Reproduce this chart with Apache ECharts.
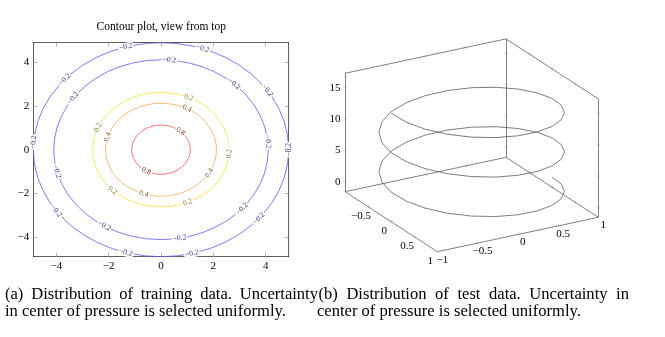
<!DOCTYPE html>
<html>
<head>
<meta charset="utf-8">
<script src="https://cdn.jsdelivr.net/npm/echarts@6.0.0/dist/echarts.min.js"></script>
<style>html,body{margin:0;padding:0;background:#fff}#main{width:665px;height:337px}</style>
</head>
<body>
<div id="main"></div>
<script>
// ---------------- data: left contour plot ----------------
const contourLevels = [-0.2, -0.2, 0.2, 0.4, 0.8];
const contourRadii  = [4.88, 4.10, 2.61, 2.12, 1.12];
const contourLabelAngles = [
  [0, 33.6, 71, 106, 139, 176, 215, 254, 284, 320],
  [5, 47, 85.5, 145, 194, 238, 280, 319],
  [66, 157, 225, 293, 356],
  [62, 164, 252, 330],
  [48, 240]
];
const leftTicks = [-4, -2, 0, 2, 4];
const contourTitle = 'Contour plot, view from top';

// ---------------- data: right 3D helix ----------------
const helixX = [
  1, 0.966, 0.866, 0.707, 0.5, 0.259, 0, -0.259, -0.5, -0.707, -0.866, -0.966,
  -1, -0.966, -0.866, -0.707, -0.5, -0.259, 0, 0.259, 0.5, 0.707, 0.866, 0.966,
  1, 0.966, 0.866, 0.707, 0.5, 0.259, 0, -0.259, -0.5, -0.707, -0.866, -0.966,
  -1, -0.966, -0.866, -0.707, -0.5, -0.259, 0, 0.259, 0.5, 0.707, 0.866, 0.966,
  1, 0.966, 0.866, 0.707, 0.5, 0.259, 0, -0.259, -0.5, -0.707, -0.866, -0.966, -1
];
const helixY = [
  0, 0.259, 0.5, 0.707, 0.866, 0.966, 1, 0.966, 0.866, 0.707, 0.5, 0.259,
  0, -0.259, -0.5, -0.707, -0.866, -0.966, -1, -0.966, -0.866, -0.707, -0.5, -0.259,
  0, 0.259, 0.5, 0.707, 0.866, 0.966, 1, 0.966, 0.866, 0.707, 0.5, 0.259,
  0, -0.259, -0.5, -0.707, -0.866, -0.966, -1, -0.966, -0.866, -0.707, -0.5, -0.259,
  0, 0.259, 0.5, 0.707, 0.866, 0.966, 1, 0.966, 0.866, 0.707, 0.5, 0.259, 0
];
const helixZ = [
  0, 0.262, 0.524, 0.785, 1.047, 1.309, 1.571, 1.833, 2.094, 2.356, 2.618, 2.880,
  3.142, 3.403, 3.665, 3.927, 4.189, 4.451, 4.712, 4.974, 5.236, 5.498, 5.760, 6.021,
  6.283, 6.545, 6.807, 7.069, 7.330, 7.592, 7.854, 8.116, 8.378, 8.639, 8.901, 9.163,
  9.425, 9.687, 9.948, 10.210, 10.472, 10.734, 10.996, 11.257, 11.519, 11.781, 12.043, 12.305,
  12.566, 12.828, 13.090, 13.352, 13.614, 13.875, 14.137, 14.399, 14.661, 14.923, 15.184, 15.446, 15.708
];
const xRange3 = [-1, 1];
const yRange3 = [-1, 1];
const zRange3 = [-1.571, 17.279];
const xTicks3 = [-1, -0.5, 0, 0.5, 1];
const yTicks3 = [-0.5, 0, 0.5, 1];
const zTicks3 = [0, 5, 10, 15];

// ---------------- captions ----------------
const captionA = ['(a) Distribution of training data. Uncertainty', 'in center of pressure is selected uniformly.'];
const captionB = ['(b) Distribution of test data.  Uncertainty in', 'center of pressure is selected uniformly.'];

// ---------------- layout / style ----------------
const SERIF = '"Liberation Serif", "Times New Roman", serif';
const ringColors  = ['#5a5af5', '#5a5af5', '#f3df3c', '#f4a95a', '#f05050'];
const labelColors = ['#2b2b80', '#2b2b80', '#80781e', '#80521e', '#80201e'];

// 3D projection (screen layout of the box)
const O3 = [471.65, 204.5];
const EX = [80.5, -17.2];
const EY = [46.15, 30];
const ZS = 118.4 / (zRange3[1] - zRange3[0]);
function proj(x, y, z) {
  return [O3[0] + EX[0] * x + EY[0] * y, O3[1] + EX[1] * x + EY[1] * y - ZS * (z - zRange3[0])];
}

const fmt = v => (v < 0 ? '\u2212' : '') + Math.abs(v);

// rings
const ringStep = 7.5;
const ringSeries = contourRadii.map((r, i) => {
  const pts = [];
  for (let a = 0; a <= 360 + 1e-9; a += ringStep) {
    const t = a * Math.PI / 180;
    pts.push([r * Math.cos(t), r * Math.sin(t)]);
  }
  return {
    type: 'line', xAxisIndex: 0, yAxisIndex: 0, data: pts, showSymbol: false, symbol: 'none',
    lineStyle: { color: ringColors[i], width: 0.8 }, silent: true, animation: false, z: 2
  };
});
const R = contourRadii[0];

const labelData = [];
contourLabelAngles.forEach((arr, i) => arr.forEach(a => labelData.push([contourRadii[i], a, i])));

const contourLabelSeries = {
  type: 'custom', xAxisIndex: 0, yAxisIndex: 0, data: labelData, silent: true, animation: false, z: 5,
  renderItem: function (params, api) {
    const r = api.value(0), a = api.value(1) * Math.PI / 180, ring = api.value(2);
    const p = api.coord([r * Math.cos(a), r * Math.sin(a)]);
    const d = 0.02;
    const p1 = api.coord([r * Math.cos(a - d), r * Math.sin(a - d)]);
    const p2 = api.coord([r * Math.cos(a + d), r * Math.sin(a + d)]);
    let ang = Math.atan2(-(p2[1] - p1[1]), p2[0] - p1[0]);
    if (ang > Math.PI / 2) ang -= Math.PI;
    if (ang < -Math.PI / 2) ang += Math.PI;
    return {
      type: 'text', x: p[0], y: p[1], rotation: ang,
      style: {
        text: fmt(contourLevels[ring]), fill: labelColors[ring],
        font: '7.5px ' + SERIF, align: 'center', verticalAlign: 'middle',
        backgroundColor: '#fff', padding: [0, 1]
      }
    };
  }
};

// 3D box edges
const zMin = zRange3[0], zMax = zRange3[1];
const x0 = xRange3[0], x1 = xRange3[1], y0 = yRange3[0], y1 = yRange3[1];
const edges3 = [
  [[x0, y0, zMin], [x0, y0, zMax]],
  [[x1, y0, zMin], [x1, y0, zMax]],
  [[x1, y1, zMin], [x1, y1, zMax]],
  [[x0, y0, zMax], [x1, y0, zMax]],
  [[x1, y0, zMax], [x1, y1, zMax]],
  [[x0, y0, zMin], [x1, y0, zMin]],
  [[x1, y0, zMin], [x1, y1, zMin]],
  [[x0, y0, zMin], [x0, y1, zMin]],
  [[x0, y1, zMin], [x1, y1, zMin]]
];
const boxLines = edges3.map(e => ({ coords: [proj.apply(null, e[0]), proj.apply(null, e[1])] }));

// small tick marks on box edges
const tickLen = 2.5;
function tickSegs(p3, dirs) {
  const c = proj(p3[0], p3[1], p3[2]);
  const out = [];
  dirs.forEach(dv => {
    const q = proj(p3[0] + dv[0], p3[1] + dv[1], p3[2] + dv[2]);
    let dx = q[0] - c[0], dy = q[1] - c[1];
    const L = Math.hypot(dx, dy) || 1;
    dx = dx / L * tickLen; dy = dy / L * tickLen;
    out.push({ coords: [[c[0] - dx, c[1] - dy], [c[0] + dx, c[1] + dy]] });
  });
  return out;
}
const tickLines = [];
const innerX = xTicks3.filter(v => v > x0 && v < x1);
const innerY = [-0.5, 0, 0.5];
innerX.forEach(x => {
  [[y0, zMax], [y0, zMin], [y1, zMin]].forEach(e => tickLines.push(...tickSegs([x, e[0], e[1]], [[0, 1, 0], [0, 0, 1]])));
});
innerY.forEach(y => {
  [[x1, zMax], [x1, zMin], [x0, zMin]].forEach(e => tickLines.push(...tickSegs([e[0], y, e[1]], [[1, 0, 0], [0, 0, 1]])));
});
zTicks3.forEach(z => {
  [[x0, y0], [x1, y0], [x1, y1]].forEach(e => tickLines.push(...tickSegs([e[0], e[1], z], [[1, 0, 0], [0, 1, 0]])));
});

const helixPts = helixX.map((x, i) => proj(x, helixY[i], helixZ[i]));

// 3D tick labels
const labels3 = [];
zTicks3.forEach(z => { const p = proj(x0, y0, z); labels3.push({ p: [p[0] - 4.5, p[1]], t: fmt(z), align: 'right' }); });
xTicks3.forEach(x => { const p = proj(x, y1, zMin); labels3.push({ p: [p[0] + 5, p[1] + 8], t: fmt(x), align: 'center' }); });
yTicks3.forEach(y => { const p = proj(x0, y, zMin); labels3.push({ p: [p[0] - 7, p[1] + 9], t: fmt(y), align: 'center' }); });
const labels3Series = {
  type: 'custom', xAxisIndex: 2, yAxisIndex: 2, silent: true, animation: false, z: 6,
  data: labels3.map((l, i) => [l.p[0], l.p[1], i]),
  renderItem: function (params, api) {
    const l = labels3[api.value(2)];
    const p = api.coord([api.value(0), api.value(1)]);
    return { type: 'text', x: p[0], y: p[1], style: { text: l.t, fill: '#000', font: '11px ' + SERIF, align: l.align, verticalAlign: 'middle' } };
  }
};

// captions (fit font so that the natural last line matches, justify first lines)
const cv = document.createElement('canvas').getContext('2d');
function mw(t, fs) { cv.font = fs + 'px ' + SERIF; return cv.measureText(t).width; }
const capFs = Math.min(17, 16 * 264 / mw(captionB[1], 16));
function justify(line, xa, xb, y) {
  const words = line.split(/\s+/);
  const ws = words.map(w => mw(w, capFs));
  const sum = ws.reduce((a, b) => a + b, 0);
  const gap = (xb - xa - sum) / (words.length - 1);
  let x = xa; const out = [];
  words.forEach((w, i) => {
    out.push({ type: 'text', x: x, y: y, style: { text: w, fill: '#000', font: capFs + 'px ' + SERIF, verticalAlign: 'middle' }, silent: true });
    x += ws[i] + gap;
  });
  return out;
}
const capEls = [].concat(
  justify(captionA[0], 5, 318, 295),
  [{ type: 'text', x: 5, y: 312, style: { text: captionA[1], fill: '#000', font: capFs + 'px ' + SERIF, verticalAlign: 'middle' }, silent: true }],
  justify(captionB[0], 318.5, 629, 295),
  [{ type: 'text', x: 317, y: 312, style: { text: captionB[1], fill: '#000', font: capFs + 'px ' + SERIF, verticalAlign: 'middle' }, silent: true }],
  [{ type: 'text', x: 161.3, y: 27, style: { text: contourTitle, fill: '#000', font: '11.5px ' + SERIF, align: 'center', verticalAlign: 'middle' }, silent: true }]
);

const axLine = { show: true, onZero: false, lineStyle: { color: '#333', width: 0.8 } };
const axTick = { show: true, inside: true, length: 4, lineStyle: { color: '#a0a0a0', width: 0.8 }, customValues: leftTicks };
const axLabel = { customValues: leftTicks, formatter: fmt, fontFamily: SERIF, fontSize: 11, color: '#000', margin: 4 };

const option = {
  animation: false,
  backgroundColor: '#fff',
  grid: [
    { left: 33.3, top: 42.7, width: 255.4, height: 214 },
    { left: 0, top: 0, width: 665, height: 337 }
  ],
  xAxis: [
    { gridIndex: 0, type: 'value', min: -R, max: R, position: 'bottom', axisLine: axLine, axisTick: axTick, axisLabel: axLabel, splitLine: { show: false } },
    { gridIndex: 0, type: 'value', min: -R, max: R, position: 'top', axisLine: axLine, axisTick: axTick, axisLabel: { show: false }, splitLine: { show: false } },
    { gridIndex: 1, type: 'value', min: 0, max: 665, show: false }
  ],
  yAxis: [
    { gridIndex: 0, type: 'value', min: -R, max: R, position: 'left', axisLine: axLine, axisTick: axTick, axisLabel: axLabel, splitLine: { show: false } },
    { gridIndex: 0, type: 'value', min: -R, max: R, position: 'right', axisLine: axLine, axisTick: axTick, axisLabel: { show: false }, splitLine: { show: false } },
    { gridIndex: 1, type: 'value', min: 0, max: 337, inverse: true, show: false }
  ],
  series: [].concat(
    ringSeries,
    [contourLabelSeries,
    { type: 'lines', coordinateSystem: 'cartesian2d', xAxisIndex: 2, yAxisIndex: 2, data: tickLines, silent: true, animation: false,
      lineStyle: { color: '#d6d6d6', width: 0.6, opacity: 1 }, z: 1 },
    { type: 'lines', coordinateSystem: 'cartesian2d', xAxisIndex: 2, yAxisIndex: 2, data: boxLines, silent: true, animation: false,
      lineStyle: { color: '#606060', width: 0.8, opacity: 1 }, z: 2 },
    { type: 'line', xAxisIndex: 2, yAxisIndex: 2, data: helixPts, showSymbol: false, symbol: 'none', silent: true, animation: false,
      lineStyle: { color: '#5c5c5c', width: 0.8 }, z: 3 },
    labels3Series]
  ),
  graphic: capEls
};
const chart = echarts.init(document.getElementById('main'), null, { renderer: 'canvas', width: 665, height: 337 });
chart.setOption(option);
</script>
</body>
</html>
